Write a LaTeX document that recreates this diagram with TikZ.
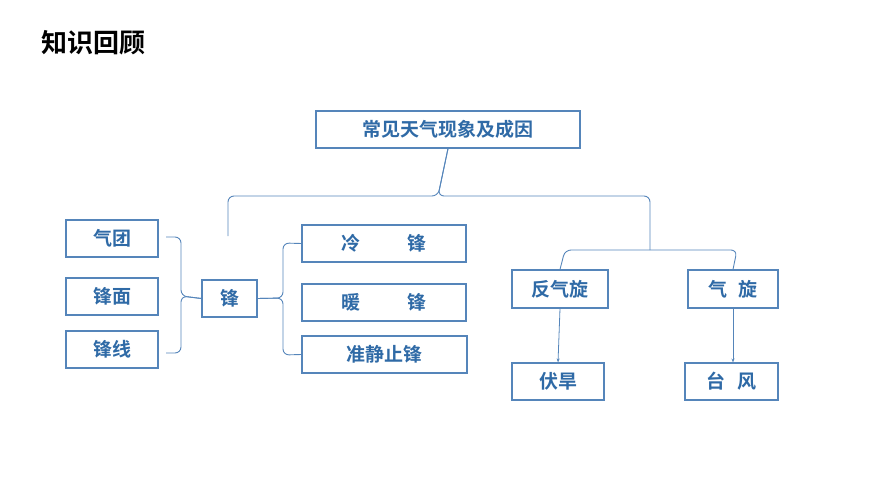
\documentclass[tikz,border=0pt]{standalone}
\usepackage{fontspec}
\newfontfamily\cjk{Noto Sans CJK SC Bold}
\usetikzlibrary{arrows.meta}
\definecolor{bd}{HTML}{5585BA}
\definecolor{tx}{HTML}{2F6AA6}
\begin{document}
\begin{tikzpicture}[x=1pt,y=-1pt,
  bx/.style={draw=bd,line width=1.1pt,inner sep=0pt,font=\cjk\fontsize{19}{21}\selectfont,text=tx},
  ln/.style={draw=bd,line width=0.9pt,rounded corners=6pt}]
\useasboundingbox (0,0) rectangle (889,500);
\node[anchor=west,font=\cjk\fontsize{26}{28}\selectfont] (t) at (38,43) {知识回顾};
\newcommand\bxx[6]{\node[bx,minimum width=#4-#2,minimum height=#5-#3] (#1) at ({(#2+#4)/2},{(#3+#5)/2}) {#6};}
\bxx{top}{316}{111}{580}{148}{常见天气现象及成因}
\bxx{qt}{66}{220}{158}{257}{气团}
\bxx{fm}{66}{278}{158}{315}{锋面}
\bxx{fx}{66}{331}{158}{368}{锋线}
\bxx{f}{202}{280}{257}{317}{锋}
\bxx{lf}{302}{225}{466}{262}{冷\hspace{2.5em}锋}
\bxx{nf}{302}{284}{466}{321}{暖\hspace{2.5em}锋}
\bxx{zf}{302}{336}{467}{373}{准静止锋}
\bxx{fq}{512}{270}{608}{308}{反气旋}
\bxx{qx}{688}{270}{778}{308}{气\hspace{0.6em}旋}
\bxx{fh}{512}{363}{604}{400}{伏旱}
\bxx{tf}{685}{363}{778}{400}{台\hspace{0.6em}风}
% big brace
\coordinate (b1) at (228,236);
\coordinate (b2) at (650,250);
\draw[ln] (b1) -- (228,196) -- (438,196) -- (top.south);
\draw[ln] (top.south) -- (438,196) -- (650,196) -- (b2);
% second brace
\draw[ln] (fq.north) -- (565,250) -- (650,250) -- (737,250) -- (qx.north);
% left brace
\coordinate (l1) at (166,237);
\coordinate (l2) at (166,353);
\draw[ln] (l1) -- (181,237) -- (181,296) -- (f.west);
\draw[ln] (l2) -- (181,353) -- (181,296) -- (f.west);
% right brace
\draw[ln] (f.east) -- (283,298) -- (283,243) -- (lf.west);
\draw[ln] (f.east) -- (283,298) -- (283,355) -- (zf.west);
\draw[draw=bd,line width=0.8pt,-{Stealth[length=4pt]}] (fq.south) -- (fh.north);
\draw[draw=bd,line width=0.8pt,-{Stealth[length=4pt]}] (qx.south) -- (qx.south |- tf.north);
\end{tikzpicture}
\end{document}
